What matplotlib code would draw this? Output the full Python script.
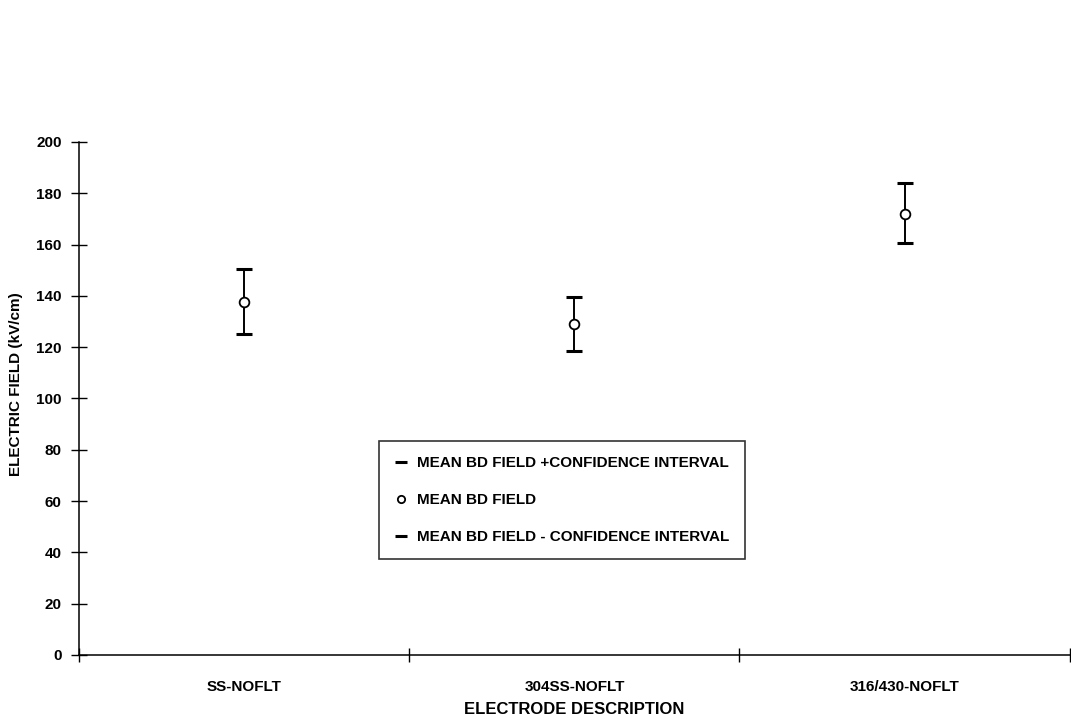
import numpy as np
import matplotlib.pyplot as plt

plt.rcParams['font.family'] = ['Liberation Sans', 'DejaVu Sans']

# values
electrodes = ['SS-NOFLT', '304SS-NOFLT', '316/430-NOFLT']
mean_field = [137.5, 129.0, 172.0]
upper_ci = [150.5, 139.5, 184.0]
lower_ci = [125.0, 118.5, 160.5]

x = np.arange(len(electrodes))

fig = plt.figure(figsize=(10.71, 7.25), dpi=100)
ax = fig.add_axes([0.0738, 0.0966, 0.925, 0.7076])

ax.vlines(x, lower_ci, upper_ci, color='black', lw=1.4, zorder=1)
ax.plot(x, upper_ci, ls='none', marker='_', ms=11, mew=2.2, color='black',
        label='MEAN BD FIELD +CONFIDENCE INTERVAL')
ax.plot(x, mean_field, ls='none', marker='o', ms=7, mew=1.3, mfc='white',
        mec='black', label='MEAN BD FIELD', zorder=3)
ax.plot(x, lower_ci, ls='none', marker='_', ms=11, mew=2.2, color='black',
        label='MEAN BD FIELD - CONFIDENCE INTERVAL')

ax.set_xlim(-0.5, 2.5)
ax.set_ylim(0, 200)
ax.set_yticks(np.arange(0, 201, 20))
ax.set_xticks([-0.5, 0.5, 1.5, 2.5])
ax.set_xticklabels([])
ax.set_xticks(x, minor=True)
ax.set_xticklabels(electrodes, minor=True)
ax.tick_params(axis='x', which='minor', length=0, pad=18)
ax.tick_params(axis='x', which='major', direction='inout', length=10, width=1)
ax.tick_params(axis='y', direction='inout', length=11, width=1, pad=7)

for lab in ax.get_yticklabels() + ax.get_xticklabels(minor=True):
    lab.set_fontweight('bold')
    lab.set_fontsize(11)

for s in ['top', 'right']:
    ax.spines[s].set_visible(False)
ax.spines['left'].set_linewidth(1.1)
ax.spines['bottom'].set_linewidth(1.1)

ax.set_ylabel('ELECTRIC FIELD (kV/cm)', fontsize=11, fontweight='bold')
ax.yaxis.set_label_coords(-0.057, 0.528)
ax.set_xlabel('ELECTRODE DESCRIPTION', fontsize=12, fontweight='bold', labelpad=6)

leg = ax.legend(loc='upper left', bbox_to_anchor=(0.303, 0.417), frameon=True,
                fancybox=False, edgecolor='black', labelspacing=1.5,
                handlelength=0.8, handletextpad=0.7, borderpad=1.0,
                markerscale=0.75, borderaxespad=0,
                prop={'weight': 'bold', 'size': 11})
leg.get_frame().set_linewidth(1.2)

fig.savefig('out.png', dpi=100)
